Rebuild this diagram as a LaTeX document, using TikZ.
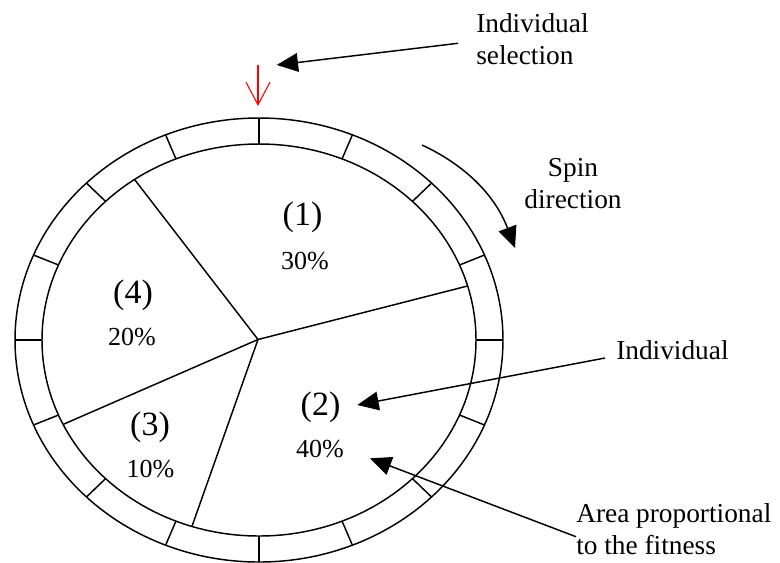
\documentclass[tikz,border=0pt]{standalone}
\usepackage{fontspec}
\setmainfont{Liberation Serif}
\usetikzlibrary{arrows.meta,calc}
\begin{document}
\begin{tikzpicture}[x=0.75pt,y=-0.75pt,
  ring/.style={line width=1.1pt},
  big/.style={line width=1.1pt,-{Triangle[length=16pt,width=14pt]}},
  lbl/.style={inner sep=0pt,font=\fontsize{20.5}{24}\selectfont},
  num/.style={inner sep=0pt,font=\fontsize{25.5}{28}\selectfont},
  pct/.style={inner sep=0pt,font=\fontsize{19.5}{22}\selectfont}]
\useasboundingbox (0,0) rectangle (780,562);
% wheel
\coordinate (O) at (259,340);
\coordinate (P) at (258,339.5);
\draw[ring] (O) ellipse [x radius=244, y radius=222];
\draw[ring] (O) ellipse [x radius=217, y radius=196];
\foreach \t in {0,22.5,...,337.5}
  \draw[ring,shift={(O)}] (\t:217 and 196) -- (\t:244 and 222);
% pie sectors (y axis points down, so angles are negated)
\coordinate (p1) at ($(O)+(-16:217 and 196)$);
\coordinate (p2) at ($(O)+(-125:217 and 196)$);
\coordinate (p3) at ($(O)+(-205.5:217 and 196)$);
\coordinate (p4) at ($(O)+(-252:217 and 196)$);
\foreach \p in {p1,p2,p3,p4} \draw[ring] (P) -- (\p);
% sector labels
\node[num] (n1) at (302.5,217) {(1)};
\node[pct] (c1) at (305,261) {30\%};
\node[num] (n4) at (133,295.7) {(4)};
\node[pct] (c4) at (132,337) {20\%};
\node[num] (n3) at (150,427.7) {(3)};
\node[pct] (c3) at (150.5,468.8) {10\%};
\node[num] (n2) at (320.5,407.5) {(2)};
\node[pct] (c2) at (320,449.5) {40\%};
% outside labels
\node[lbl,align=left,anchor=west] (sel) at (476,39) {Individual\\selection};
\node[lbl,align=center] (spin) at (573,183.7) {Spin\\direction};
\node[lbl,anchor=west] (ind) at (616,349.8) {Individual};
\node[lbl,align=left,anchor=west] (area) at (576,528.7) {Area proportional\\to the fitness};
% arrows
\coordinate (selS) at (458,43.3);
\coordinate (selT) at (276.7,65);
\draw[big] (selS) -- (selT);
\coordinate (r0) at (258,65);
\coordinate (r1) at (258,106);
\draw[red,line width=0.8pt,-{Straight Barb[length=17pt,width=18pt]}] (r0) -- (r1);
\coordinate (s0) at (422,145);
\coordinate (s1) at (515,248);
\draw[big] (s0) .. controls (465,165) and (495,195) .. (s1);
\coordinate (indS) at (605,358);
\coordinate (indT) at (357.3,405);
\draw[big] (indS) -- (indT);
\coordinate (areaS) at (576,536.7);
\coordinate (areaT) at (370,458.3);
\draw[big] (areaS) -- (areaT);
\end{tikzpicture}
\end{document}
